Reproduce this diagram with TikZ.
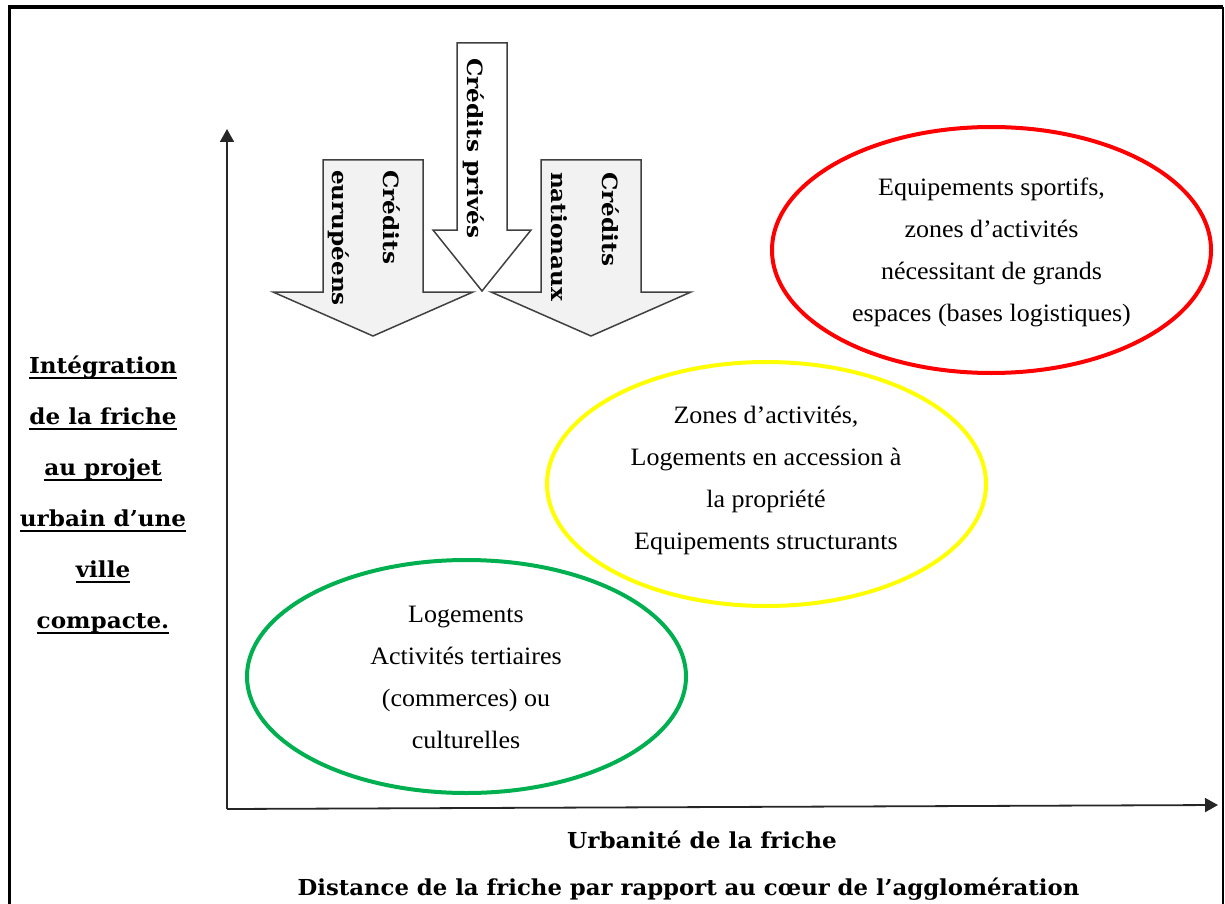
\documentclass[tikz,border=0pt]{standalone}
\usepackage{graphicx}
\usepackage{fontspec}
\setmainfont{Liberation Serif}
\newfontfamily\labfont{DejaVu Serif}
\usetikzlibrary{shapes.geometric,arrows.meta}
\definecolor{ellred}{HTML}{FF0000}
\definecolor{ellyellow}{HTML}{FFFF00}
\definecolor{ellgreen}{HTML}{00B050}
\definecolor{arrfill}{HTML}{F2F2F2}
\definecolor{arrline}{HTML}{404040}
\newsavebox\ulbox
\newcommand\ulbar[1]{\sbox\ulbox{#1}\rlap{\rule[-6pt]{\wd\ulbox}{2.5pt}}\usebox\ulbox}
\tikzset{
  zone/.style={ellipse, draw=#1, line width=4pt, inner sep=0pt, minimum width=439pt},
  zonetext/.style={anchor=base, inner sep=0pt, font=\fontsize{25}{42}\selectfont},
  labeltext/.style={inner sep=0pt, font=\labfont\bfseries\fontsize{22}{51}\selectfont},
  arrowtext/.style={rotate=-90, anchor=base west, inner sep=0pt, font=\labfont\bfseries\fontsize{21}{51}\selectfont},
  bigarrow/.style={draw=arrline, line width=1.5pt, line join=miter},
  axis/.style={draw=black!85, line width=1.8pt, -{Triangle[length=13pt,width=14pt]}}
}
\begin{document}
\begin{tikzpicture}[x=1pt,y=-1pt]
\useasboundingbox (0,0) rectangle (1225,904);
% frame
\draw[line width=3.5pt] (9.3,904) -- (9.3,7.2) -- (1223,7.2);
\draw[line width=2pt] (1223,7.2) -- (1223,904);
% axes
\coordinate (O) at (227,809);
\coordinate (ytip) at (227,129);
\coordinate (xtip) at (1218,805);
\draw[axis] (O) -- (ytip);
\draw[axis] (O) -- (xtip);
% funding arrows
\draw[bigarrow, fill=arrfill] (323,160) -- (423,160) -- (423,292) -- (473,292) -- (373,336) -- (273,292) -- (323,292) -- cycle;
\draw[bigarrow, fill=arrfill] (541,160) -- (641,160) -- (641,292) -- (691,292) -- (591,336) -- (491,292) -- (541,292) -- cycle;
\draw[bigarrow, fill=white] (457,43) -- (507,43) -- (507,230) -- (531,230) -- (482,291) -- (433,230) -- (457,230) -- cycle;
\node[arrowtext] (eutext) at (383,170) {\scalebox{1.1}[1]{\begin{tabular}[t]{@{}l@{}}Crédits\\eurupéens\end{tabular}}};
\node[arrowtext] (natext) at (602,172) {\scalebox{1.1}[1]{\begin{tabular}[t]{@{}l@{}}Crédits\\nationaux\end{tabular}}};
\node[arrowtext] (prtext) at (467,58) {\scalebox{1.1}[1]{Crédits privés}};
% zones
\node[zone=ellred, minimum height=246pt] (red) at (991.5,250) {};
\node[zone=ellyellow, minimum height=244pt] (yellow) at (766.5,484) {};
\node[zone=ellgreen, minimum height=233pt] (green) at (466.5,676.5) {};
\node[zonetext] (redtext) at (991.5,195) {\scalebox{1.04}[1]{\begin{tabular}[t]{@{}c@{}}Equipements sportifs,\\zones d’activités\\nécessitant de grands\\espaces (bases logistiques)\end{tabular}}};
\node[zonetext] (yellowtext) at (766,423) {\scalebox{1.04}[1]{\begin{tabular}[t]{@{}c@{}}Zones d’activités,\\Logements en accession à\\la propriété\\Equipements structurants\end{tabular}}};
\node[zonetext] (greentext) at (466,622) {\scalebox{1.04}[1]{\begin{tabular}[t]{@{}c@{}}Logements\\Activités tertiaires\\(commerces) ou\\culturelles\end{tabular}}};
% axis labels
\node[labeltext, anchor=base] (ylab) at (103,373) {\scalebox{1.05}[1]{\begin{tabular}[t]{@{}c@{}}\ulbar{Intégration}\\\ulbar{de la friche}\\\ulbar{au projet}\\\ulbar{urbain d’une}\\\ulbar{ville}\\\ulbar{compacte.}\end{tabular}}};
\node[labeltext, anchor=base] (xlab1) at (702,848) {\scalebox{1.05}[1]{Urbanité de la friche}};
\node[labeltext, anchor=base] (xlab2) at (688.5,895) {\scalebox{1.035}[1]{Distance de la friche par rapport au cœur de l’agglomération}};
\end{tikzpicture}
\end{document}
